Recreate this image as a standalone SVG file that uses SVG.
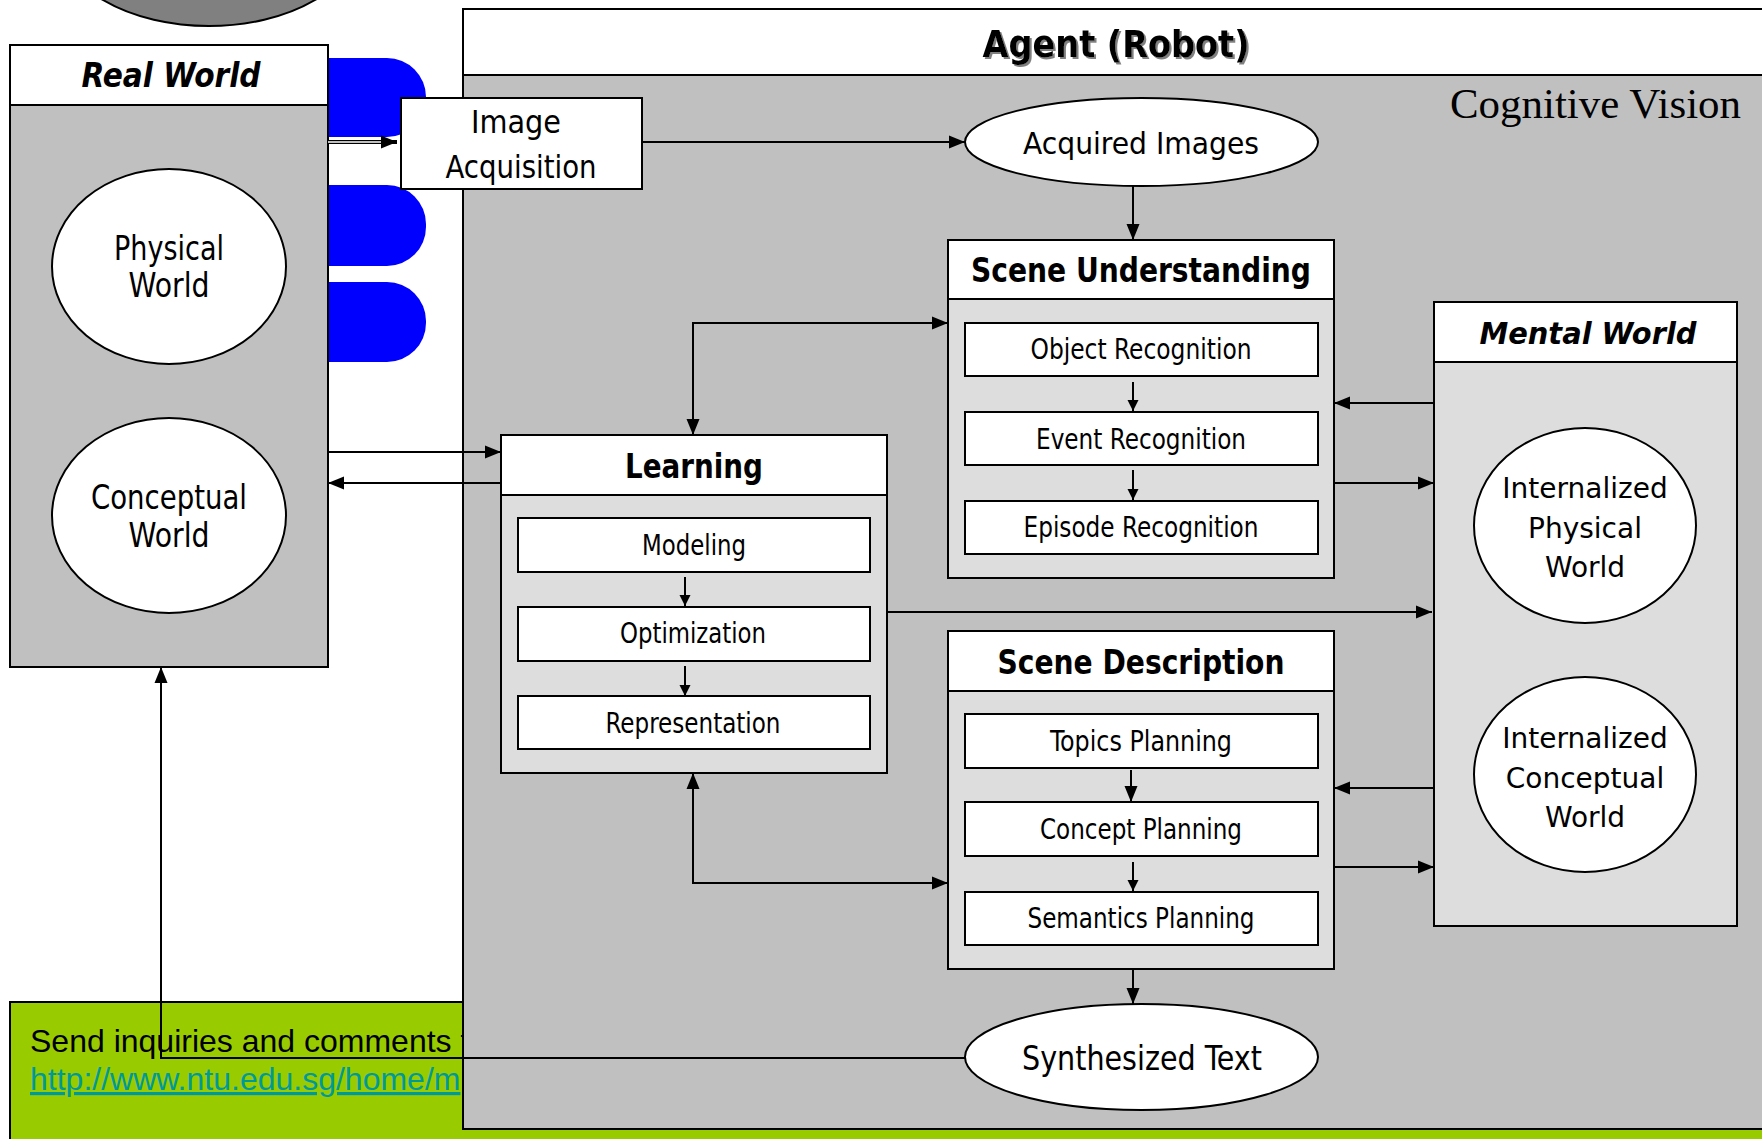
<svg xmlns="http://www.w3.org/2000/svg" width="1762" height="1139" viewBox="0 0 1762 1139">
<defs>
<style>
.t{font-family:"DejaVu Sans Condensed","DejaVu Sans",sans-serif;fill:#000;text-anchor:middle}
.v{font-family:"DejaVu Sans",sans-serif;fill:#000;text-anchor:middle}
.b{font-weight:bold}
.bi{font-weight:bold;font-style:italic}
.box{stroke:#000;stroke-width:2}
.w{fill:#fff}
.g{fill:#c0c0c0}
.lg{fill:#dddddd}
.ln{fill:none;stroke:#000;stroke-width:2}
.blue{fill:#0000ff}
</style>
<marker id="ah" markerUnits="userSpaceOnUse" markerWidth="18" markerHeight="14" refX="16" refY="7" orient="auto-start-reverse">
<path d="M0,0.5 L16,7 L0,13.5 z" fill="#000"/>
</marker>
<marker id="as" markerUnits="userSpaceOnUse" markerWidth="12" markerHeight="12" refX="11" refY="5.5" orient="auto">
<path d="M0,0 L11,5.5 L0,11 z" fill="#000"/>
</marker>
<filter id="sh" x="-5%" y="-20%" width="110%" height="150%">
<feDropShadow dx="2" dy="2" stdDeviation="0.6" flood-color="#808080" flood-opacity="1"/>
</filter>
</defs>

<rect x="0" y="0" width="1762" height="1139" fill="#fff"/>

<g id="top-ellipse">
<ellipse cx="209" cy="-63" rx="150" ry="89" fill="#808080" stroke="#000" stroke-width="2"/>
</g>

<g id="blue-tabs">
<path class="blue" d="M328,58 H387 A39,39 0 0 1 426,97 V98 A39,39 0 0 1 387,137 H328 z"/>
<path class="blue" d="M328,185 H387 A39,39 0 0 1 426,224 V227 A39,39 0 0 1 387,266 H328 z"/>
<path class="blue" d="M328,282 H387 A39,39 0 0 1 426,321 V323 A39,39 0 0 1 387,362 H328 z"/>
</g>

<g id="footer">
<rect x="10" y="1002" width="1770" height="150" fill="#99cc00" stroke="#000" stroke-width="2"/>
<text x="30" y="1052" font-family="Liberation Sans, Arial, sans-serif" font-size="32" fill="#000">Send inquiries and comments t</text>
<text x="30" y="1090" font-family="Liberation Sans, Arial, sans-serif" font-size="32" fill="#009999" text-decoration="underline">http://www.ntu.edu.sg/home/m</text>
</g>

<g id="real-world">
<rect class="box g" x="10" y="105" width="318" height="562"/>
<rect class="box w" x="10" y="45" width="318" height="60"/>
<text class="t bi" x="171" y="87" font-size="33" textLength="179" lengthAdjust="spacingAndGlyphs">Real World</text>
</g>
<g id="physical-world">
<ellipse class="box w" cx="169" cy="266.5" rx="117" ry="97.5"/>
<text class="t" x="169" y="260" font-size="34" textLength="110" lengthAdjust="spacingAndGlyphs">Physical</text>
<text class="t" x="169" y="297" font-size="34" textLength="81" lengthAdjust="spacingAndGlyphs">World</text>
</g>
<g id="conceptual-world">
<ellipse class="box w" cx="169" cy="515.5" rx="117" ry="97.5"/>
<text class="t" x="169" y="509" font-size="34" textLength="156" lengthAdjust="spacingAndGlyphs">Conceptual</text>
<text class="t" x="169" y="547" font-size="34" textLength="81" lengthAdjust="spacingAndGlyphs">World</text>
</g>

<g id="agent">
<rect class="box g" x="463" y="75" width="1320" height="1054"/>
<rect class="box w" x="463" y="9" width="1320" height="66"/>
<text class="t b" x="1116" y="57" font-size="38" textLength="267" lengthAdjust="spacingAndGlyphs" filter="url(#sh)">Agent (Robot)</text>
<text x="1450" y="118" font-family="Liberation Serif, 'Times New Roman', serif" font-size="42" textLength="291" lengthAdjust="spacingAndGlyphs" fill="#000">Cognitive Vision</text>
</g>

<g id="image-acquisition">
<rect class="box w" x="401" y="98" width="241" height="91"/>
<text class="t" x="516" y="133" font-size="32" textLength="90" lengthAdjust="spacingAndGlyphs">Image</text>
<text class="t" x="521" y="178" font-size="32" textLength="151" lengthAdjust="spacingAndGlyphs">Acquisition</text>
</g>

<g id="acquired-images">
<ellipse class="box w" cx="1141.5" cy="142" rx="176.5" ry="44"/>
<text class="t" x="1141" y="154" font-size="31" textLength="236" lengthAdjust="spacingAndGlyphs">Acquired Images</text>
</g>

<g id="scene-understanding">
<rect class="box lg" x="948" y="299" width="386" height="279"/>
<rect class="box w" x="948" y="240" width="386" height="59"/>
<text class="t b" x="1141" y="282" font-size="34" textLength="340" lengthAdjust="spacingAndGlyphs">Scene Understanding</text>
<rect class="box w" x="965" y="323" width="353" height="53"/>
<text class="t" x="1141" y="359" font-size="27.5" textLength="221" lengthAdjust="spacingAndGlyphs">Object Recognition</text>
<rect class="box w" x="965" y="412" width="353" height="53"/>
<text class="t" x="1141" y="449" font-size="27.5" textLength="210" lengthAdjust="spacingAndGlyphs">Event Recognition</text>
<rect class="box w" x="965" y="501" width="353" height="53"/>
<text class="t" x="1141" y="537" font-size="27.5" textLength="235" lengthAdjust="spacingAndGlyphs">Episode Recognition</text>
</g>

<g id="learning">
<rect class="box lg" x="501" y="495" width="386" height="278"/>
<rect class="box w" x="501" y="435" width="386" height="60"/>
<text class="t b" x="694" y="478" font-size="33" textLength="138" lengthAdjust="spacingAndGlyphs">Learning</text>
<rect class="box w" x="518" y="518" width="352" height="54"/>
<text class="t" x="694" y="555" font-size="28" textLength="104" lengthAdjust="spacingAndGlyphs">Modeling</text>
<rect class="box w" x="518" y="607" width="352" height="54"/>
<text class="t" x="693" y="643" font-size="28" textLength="146" lengthAdjust="spacingAndGlyphs">Optimization</text>
<rect class="box w" x="518" y="696" width="352" height="53"/>
<text class="t" x="693" y="733" font-size="28" textLength="175" lengthAdjust="spacingAndGlyphs">Representation</text>
</g>

<g id="scene-description">
<rect class="box lg" x="948" y="691" width="386" height="278"/>
<rect class="box w" x="948" y="631" width="386" height="60"/>
<text class="t b" x="1141" y="674" font-size="34" textLength="287" lengthAdjust="spacingAndGlyphs">Scene Description</text>
<rect class="box w" x="965" y="714" width="353" height="54"/>
<text class="t" x="1141" y="751" font-size="27.5" textLength="182" lengthAdjust="spacingAndGlyphs">Topics Planning</text>
<rect class="box w" x="965" y="802" width="353" height="54"/>
<text class="t" x="1141" y="839" font-size="27.5" textLength="202" lengthAdjust="spacingAndGlyphs">Concept Planning</text>
<rect class="box w" x="965" y="892" width="353" height="53"/>
<text class="t" x="1141" y="928" font-size="27.5" textLength="227" lengthAdjust="spacingAndGlyphs">Semantics Planning</text>
</g>

<g id="synthesized-text">
<ellipse class="box w" cx="1141.5" cy="1057" rx="176.5" ry="53"/>
<text class="t" x="1142" y="1070" font-size="33" textLength="240" lengthAdjust="spacingAndGlyphs">Synthesized Text</text>
</g>

<g id="mental-world">
<rect class="box lg" x="1434" y="362" width="303" height="564"/>
<rect class="box w" x="1434" y="302" width="303" height="60"/>
<text class="v bi" x="1588" y="344" font-size="31" textLength="217" lengthAdjust="spacingAndGlyphs">Mental World</text>
</g>
<g id="internalized-physical-world">
<ellipse class="box w" cx="1585" cy="525.5" rx="111" ry="97.5"/>
<text class="v" x="1585" y="498" font-size="28">Internalized</text>
<text class="v" x="1585" y="538" font-size="28">Physical</text>
<text class="v" x="1585" y="577" font-size="28">World</text>
</g>
<g id="internalized-conceptual-world">
<ellipse class="box w" cx="1585" cy="774.5" rx="111" ry="97.5"/>
<text class="v" x="1585" y="748" font-size="28">Internalized</text>
<text class="v" x="1585" y="788" font-size="28">Conceptual</text>
<text class="v" x="1585" y="827" font-size="28">World</text>
</g>

<g id="connectors">
<line x1="328" y1="142" x2="397" y2="142" stroke="#000" stroke-width="4"/>
<line x1="328" y1="142" x2="385" y2="142" stroke="#fff" stroke-width="1.3"/>
<path d="M381,135.5 L397,142 L381,148.5 z" fill="#000"/>
<line class="ln" x1="642" y1="142" x2="965" y2="142" marker-end="url(#ah)"/>
<line class="ln" x1="1133" y1="186" x2="1133" y2="240" marker-end="url(#ah)"/>
<line class="ln" x1="1133" y1="382" x2="1133" y2="411" marker-end="url(#as)"/>
<line class="ln" x1="1133" y1="470" x2="1133" y2="500" marker-end="url(#as)"/>
<line class="ln" x1="1434" y1="403" x2="1334" y2="403" marker-end="url(#ah)"/>
<line class="ln" x1="1334" y1="483" x2="1434" y2="483" marker-end="url(#ah)"/>
<path class="ln" d="M693,435 V323 H948" marker-start="url(#ah)" marker-end="url(#ah)"/>
<line class="ln" x1="328" y1="452" x2="501" y2="452" marker-end="url(#ah)"/>
<line class="ln" x1="501" y1="483" x2="328" y2="483" marker-end="url(#ah)"/>
<line class="ln" x1="685" y1="577" x2="685" y2="606" marker-end="url(#as)"/>
<line class="ln" x1="685" y1="666" x2="685" y2="696" marker-end="url(#as)"/>
<line class="ln" x1="887" y1="612" x2="1432" y2="612" marker-end="url(#ah)"/>
<path class="ln" d="M693,773 V883 H948" marker-start="url(#ah)" marker-end="url(#ah)"/>
<line class="ln" x1="1131" y1="770" x2="1131" y2="802" marker-end="url(#ah)"/>
<line class="ln" x1="1133" y1="862" x2="1133" y2="891" marker-end="url(#as)"/>
<line class="ln" x1="1434" y1="788" x2="1334" y2="788" marker-end="url(#ah)"/>
<line class="ln" x1="1334" y1="867" x2="1434" y2="867" marker-end="url(#ah)"/>
<line class="ln" x1="1133" y1="969" x2="1133" y2="1004" marker-end="url(#ah)"/>
<path class="ln" d="M965,1058 H161 V667" marker-end="url(#ah)"/>
</g>
</svg>
